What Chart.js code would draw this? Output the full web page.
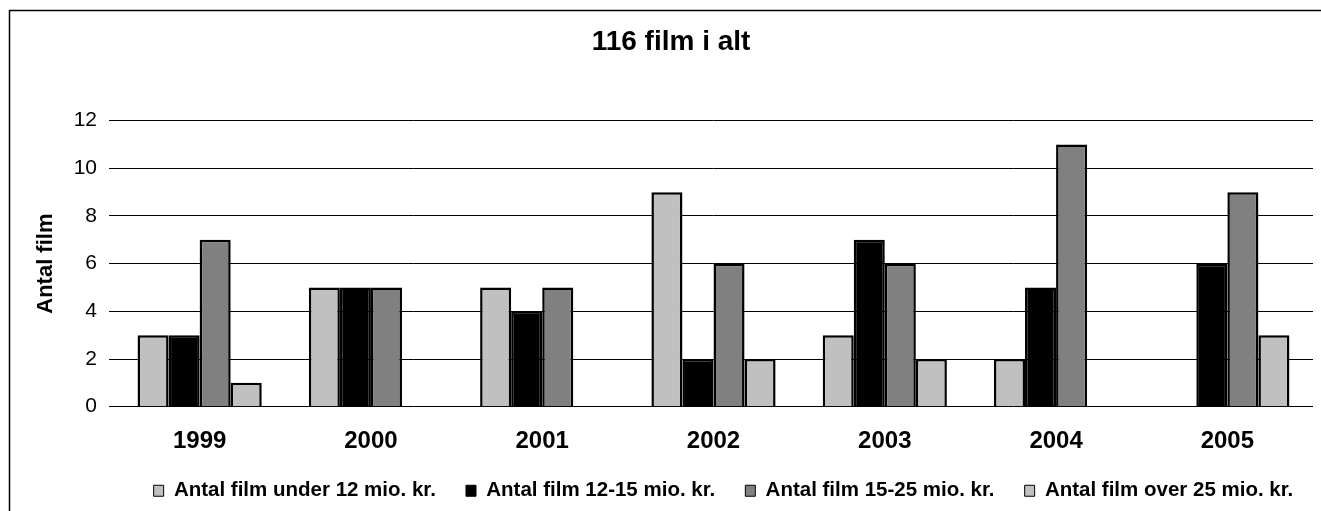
<!DOCTYPE html>
<html>
<head>
<meta charset="utf-8">
<script src="https://cdn.jsdelivr.net/npm/chart.js@4/dist/chart.umd.min.js"></script>
<style>
  html, body { margin: 0; padding: 0; background: #fff; }
  #wrap { width: 1321px; height: 511px; position: relative; }
</style>
</head>
<body>
<div id="wrap"><canvas id="chart" width="1321" height="511"></canvas></div>
<script>
const years = ['1999', '2000', '2001', '2002', '2003', '2004', '2005'];
const under12 = [3, 5, 5, 9, 3, 2, 0];
const mio12to15 = [3, 5, 4, 2, 7, 5, 6];
const mio15to25 = [7, 5, 5, 6, 6, 11, 9];
const over25 = [1, 0, 0, 2, 2, 0, 3];
const seriesNames = [
  'Antal film under 12 mio. kr.',
  'Antal film 12-15 mio. kr.',
  'Antal film 15-25 mio. kr.',
  'Antal film over 25 mio. kr.'
];
const yTicks = [0, 2, 4, 6, 8, 10, 12];

const FONT = '"Liberation Sans", Arial, sans-serif';

// outer frame of the chart (cut off at right and bottom in the original)
const framePlugin = {
  id: 'frame',
  afterLayout(chart) {
    // the original frame is wider than the picture, so title and legend sit right of centre
    if (chart.titleBlock) {
      chart.titleBlock.left += 10;
      chart.titleBlock.right += 10;
    }
    if (chart.legend) {
      chart.legend.left += 71;
      chart.legend.right += 71;
    }
  },
  beforeDraw(chart) {
    const ctx = chart.ctx;
    ctx.save();
    ctx.fillStyle = '#fff';
    ctx.fillRect(0, 0, chart.width, chart.height);
    ctx.strokeStyle = '#000';
    ctx.lineWidth = 1.5;
    ctx.strokeRect(9.5, 10.5, 1400, 600);
    ctx.restore();
  }
};

function makeSet(label, data, color) {
  return {
    label: label,
    data: data,
    backgroundColor: color,
    borderColor: '#000',
    borderWidth: 2.5,
    borderSkipped: 'bottom',
    categoryPercentage: 0.725,
    barPercentage: 1
  };
}

const ctx = document.getElementById('chart').getContext('2d');
new Chart(ctx, {
  type: 'bar',
  data: {
    labels: years,
    datasets: [
      makeSet(seriesNames[0], under12, '#c0c0c0'),
      makeSet(seriesNames[1], mio12to15, '#000000'),
      makeSet(seriesNames[2], mio15to25, '#808080'),
      makeSet(seriesNames[3], over25, '#c0c0c0')
    ]
  },
  options: {
    responsive: false,
    animation: false,
    layout: { padding: { left: 9, right: 8, top: 0, bottom: 0 } },
    plugins: {
      title: {
        display: true,
        text: '116 film i alt',
        color: '#000',
        font: { family: FONT, size: 28, weight: 'bold' },
        padding: { top: 25, bottom: 62 }
      },
      legend: {
        position: 'bottom',
        labels: {
          color: '#000',
          font: { family: FONT, size: 20.5, weight: 'bold' },
          boxWidth: 10,
          boxHeight: 11,
          padding: 13,
          generateLabels(chart) {
            return chart.data.datasets.map((ds, i) => ({
              text: ds.label + '   ',
              fillStyle: ds.backgroundColor,
              strokeStyle: '#000',
              lineWidth: 1,
              fontColor: '#000',
              datasetIndex: i,
              hidden: false
            }));
          }
        }
      },
      tooltip: { enabled: false }
    },
    scales: {
      x: {
        grid: { display: false },
        border: { display: false },
        ticks: {
          color: '#000',
          font: { family: FONT, size: 24, weight: 'bold' },
          padding: 12
        }
      },
      y: {
        min: 0,
        max: 12,
        afterBuildTicks(scale) {
          scale.ticks = yTicks.map(v => ({ value: v }));
        },
        afterFit(scale) {
          scale.width = 105;
        },
        grid: { color: '#000', lineWidth: 1, tickLength: 5 },
        border: { display: false },
        ticks: {
          color: '#000',
          font: { family: FONT, size: 21 },
          padding: 12
        },
        title: {
          display: true,
          text: 'Antal film',
          color: '#000',
          font: { family: FONT, size: 22, weight: 'bold' },
          padding: { top: 24, bottom: 0 }
        }
      }
    }
  },
  plugins: [framePlugin]
});
</script>
</body>
</html>
